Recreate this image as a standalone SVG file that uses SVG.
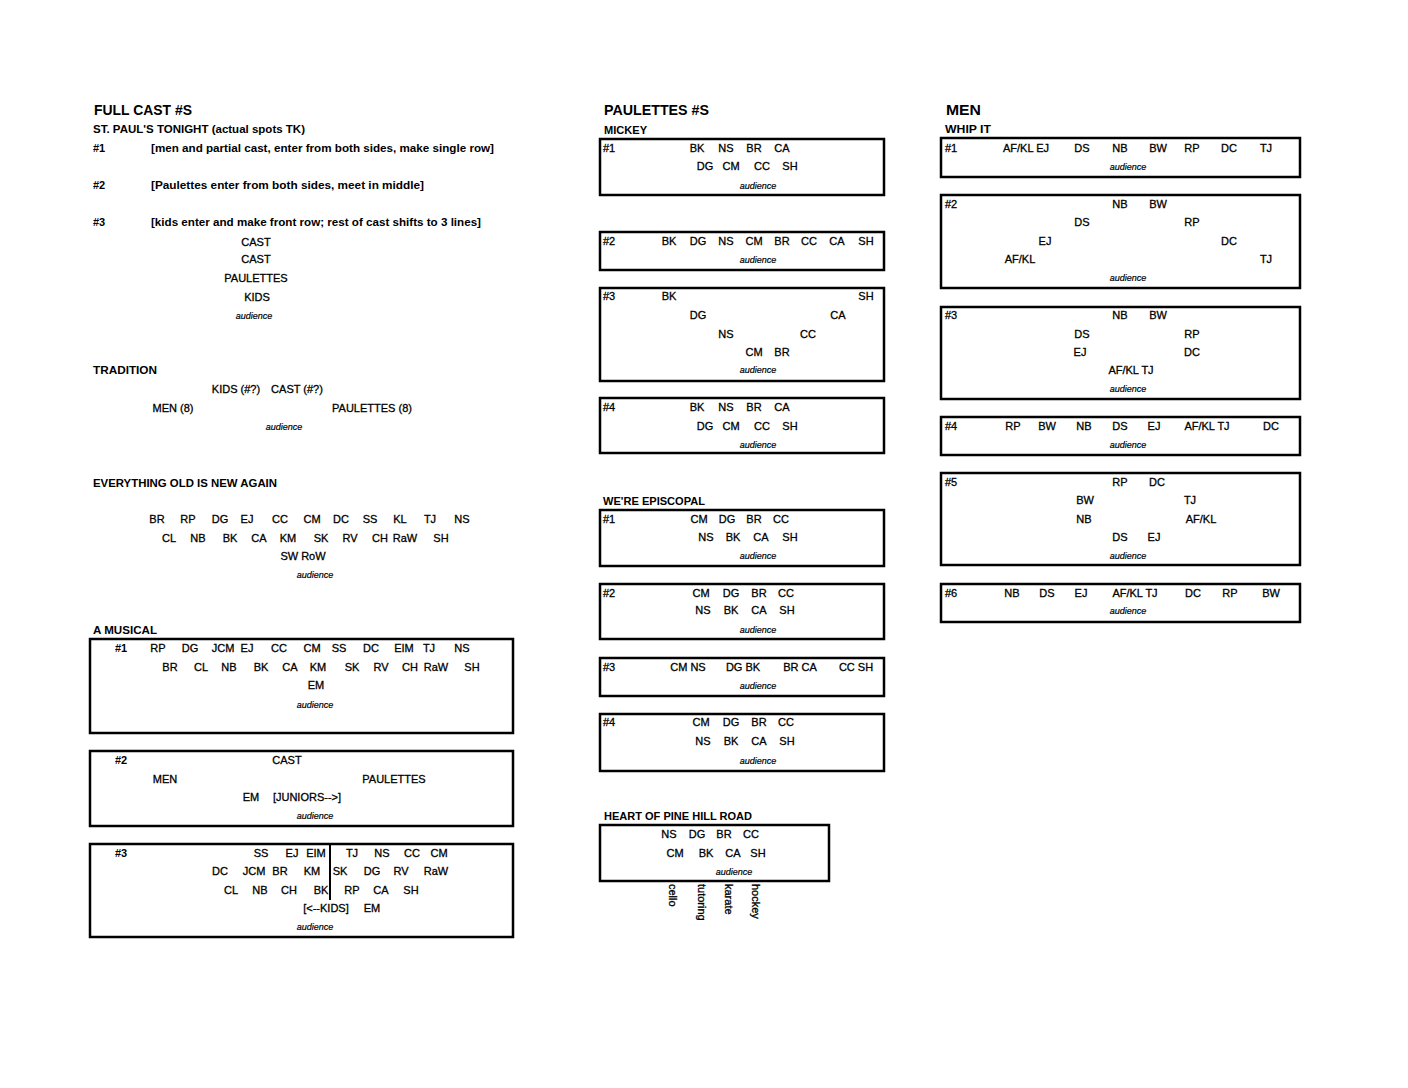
<svg xmlns="http://www.w3.org/2000/svg" width="1408" height="1088" viewBox="0 0 1408 1088">
<style>
text{font-family:"Liberation Sans",Arial,sans-serif;fill:#000}
.h1{font-size:15px;font-weight:bold}
.h2{font-size:11px;font-weight:bold}
.b{font-size:11px;font-weight:bold}
.l{font-size:11px;stroke:#000;stroke-width:0.3}
.t{font-size:11px;text-anchor:middle;stroke:#000;stroke-width:0.3}
.a{font-size:9px;font-style:italic;text-anchor:middle;stroke:#000;stroke-width:0.2}
.r{font-size:11px;stroke:#000;stroke-width:0.3}
.box{fill:none;stroke:#000;stroke-width:2.5}
</style>
<rect width="1408" height="1088" fill="#fff"/>

<!-- LEFT COLUMN -->
<g id="full-cast-title"><text class="h1" x="94" y="115" textLength="98" lengthAdjust="spacingAndGlyphs">FULL CAST #S</text></g>

<g id="st-pauls-tonight">
<text class="h2" x="93" y="133" textLength="212" lengthAdjust="spacingAndGlyphs">ST. PAUL'S TONIGHT (actual spots TK)</text>
<text class="b" x="93" y="152">#1</text>
<text class="b" x="151" y="152" textLength="343" lengthAdjust="spacingAndGlyphs">[men and partial cast, enter from both sides, make single row]</text>
<text class="b" x="93" y="189">#2</text>
<text class="b" x="151" y="189" textLength="273" lengthAdjust="spacingAndGlyphs">[Paulettes enter from both sides, meet in middle]</text>
<text class="b" x="93" y="226">#3</text>
<text class="b" x="151" y="226" textLength="330" lengthAdjust="spacingAndGlyphs">[kids enter and make front row; rest of cast shifts to 3 lines]</text>
<text class="t" x="256" y="246">CAST</text>
<text class="t" x="256" y="263">CAST</text>
<text class="t" x="256" y="282">PAULETTES</text>
<text class="t" x="257" y="301">KIDS</text>
<text class="a" x="254" y="319">audience</text>
</g>

<g id="tradition">
<text class="h2" x="93" y="374" textLength="64" lengthAdjust="spacingAndGlyphs">TRADITION</text>
<text class="t" x="236" y="393">KIDS (#?)</text>
<text class="t" x="297" y="393">CAST (#?)</text>
<text class="t" x="173" y="412">MEN (8)</text>
<text class="t" x="372" y="412">PAULETTES (8)</text>
<text class="a" x="284" y="430">audience</text>
</g>

<g id="everything-old">
<text class="h2" x="93" y="487" textLength="184" lengthAdjust="spacingAndGlyphs">EVERYTHING OLD IS NEW AGAIN</text>
<text class="t" x="157" y="523">BR</text><text class="t" x="188" y="523">RP</text><text class="t" x="220" y="523">DG</text><text class="t" x="247" y="523">EJ</text><text class="t" x="280" y="523">CC</text><text class="t" x="312" y="523">CM</text><text class="t" x="341" y="523">DC</text><text class="t" x="370" y="523">SS</text><text class="t" x="400" y="523">KL</text><text class="t" x="430" y="523">TJ</text><text class="t" x="462" y="523">NS</text>
<text class="t" x="169" y="542">CL</text><text class="t" x="198" y="542">NB</text><text class="t" x="230" y="542">BK</text><text class="t" x="259" y="542">CA</text><text class="t" x="288" y="542">KM</text><text class="t" x="321" y="542">SK</text><text class="t" x="350" y="542">RV</text><text class="t" x="380" y="542">CH</text><text class="t" x="405" y="542">RaW</text><text class="t" x="441" y="542">SH</text>
<text class="t" x="303" y="560">SW RoW</text>
<text class="a" x="315" y="578">audience</text>
</g>

<g id="a-musical-title"><text class="h2" x="93" y="634" textLength="64" lengthAdjust="spacingAndGlyphs">A MUSICAL</text></g>

<g id="a-musical-1">
<rect class="box" x="90" y="639" width="423" height="94"/>
<text class="b" x="115" y="652">#1</text>
<text class="t" x="158" y="652">RP</text><text class="t" x="190" y="652">DG</text><text class="t" x="223" y="652">JCM</text><text class="t" x="247" y="652">EJ</text><text class="t" x="279" y="652">CC</text><text class="t" x="312" y="652">CM</text><text class="t" x="339" y="652">SS</text><text class="t" x="371" y="652">DC</text><text class="t" x="404" y="652">EIM</text><text class="t" x="429" y="652">TJ</text><text class="t" x="462" y="652">NS</text>
<text class="t" x="170" y="671">BR</text><text class="t" x="201" y="671">CL</text><text class="t" x="229" y="671">NB</text><text class="t" x="261" y="671">BK</text><text class="t" x="290" y="671">CA</text><text class="t" x="318" y="671">KM</text><text class="t" x="352" y="671">SK</text><text class="t" x="381" y="671">RV</text><text class="t" x="410" y="671">CH</text><text class="t" x="436" y="671">RaW</text><text class="t" x="472" y="671">SH</text>
<text class="t" x="316" y="689">EM</text>
<text class="a" x="315" y="708">audience</text>
</g>

<g id="a-musical-2">
<rect class="box" x="90" y="751" width="423" height="75"/>
<text class="b" x="115" y="764">#2</text>
<text class="t" x="287" y="764">CAST</text>
<text class="t" x="165" y="783">MEN</text>
<text class="t" x="394" y="783">PAULETTES</text>
<text class="t" x="251" y="801">EM</text>
<text class="t" x="307" y="801">[JUNIORS--&gt;]</text>
<text class="a" x="315" y="819">audience</text>
</g>

<g id="a-musical-3">
<rect class="box" x="90" y="844" width="423" height="93"/>
<line x1="330" y1="844" x2="330" y2="900" stroke="#000" stroke-width="2"/>
<text class="b" x="115" y="857">#3</text>
<text class="t" x="261" y="857">SS</text><text class="t" x="292" y="857">EJ</text><text class="t" x="316" y="857">EIM</text><text class="t" x="352" y="857">TJ</text><text class="t" x="382" y="857">NS</text><text class="t" x="412" y="857">CC</text><text class="t" x="439" y="857">CM</text>
<text class="t" x="220" y="875">DC</text><text class="t" x="254" y="875">JCM</text><text class="t" x="280" y="875">BR</text><text class="t" x="312" y="875">KM</text><text class="t" x="340" y="875">SK</text><text class="t" x="372" y="875">DG</text><text class="t" x="401" y="875">RV</text><text class="t" x="436" y="875">RaW</text>
<text class="t" x="231" y="894">CL</text><text class="t" x="260" y="894">NB</text><text class="t" x="289" y="894">CH</text><text class="t" x="321" y="894">BK</text><text class="t" x="352" y="894">RP</text><text class="t" x="381" y="894">CA</text><text class="t" x="411" y="894">SH</text>
<text class="t" x="326" y="912">[&lt;--KIDS]</text>
<text class="t" x="372" y="912">EM</text>
<text class="a" x="315" y="930">audience</text>
</g>

<!-- MIDDLE COLUMN -->
<g id="paulettes-title">
<text class="h1" x="604" y="115" textLength="105" lengthAdjust="spacingAndGlyphs">PAULETTES #S</text>
<text class="h2" x="604" y="134" textLength="43" lengthAdjust="spacingAndGlyphs">MICKEY</text>
</g>

<g id="mickey-1">
<rect class="box" x="600" y="139" width="284" height="56"/>
<text class="l" x="603" y="152">#1</text>
<text class="t" x="697" y="152">BK</text><text class="t" x="726" y="152">NS</text><text class="t" x="754" y="152">BR</text><text class="t" x="782" y="152">CA</text>
<text class="t" x="705" y="170">DG</text><text class="t" x="731" y="170">CM</text><text class="t" x="762" y="170">CC</text><text class="t" x="790" y="170">SH</text>
<text class="a" x="758" y="189">audience</text>
</g>

<g id="mickey-2">
<rect class="box" x="600" y="232" width="284" height="38"/>
<text class="l" x="603" y="245">#2</text>
<text class="t" x="669" y="245">BK</text><text class="t" x="698" y="245">DG</text><text class="t" x="726" y="245">NS</text><text class="t" x="754" y="245">CM</text><text class="t" x="782" y="245">BR</text><text class="t" x="809" y="245">CC</text><text class="t" x="837" y="245">CA</text><text class="t" x="866" y="245">SH</text>
<text class="a" x="758" y="263">audience</text>
</g>

<g id="mickey-3">
<rect class="box" x="600" y="288" width="284" height="93"/>
<text class="l" x="603" y="300">#3</text>
<text class="t" x="669" y="300">BK</text><text class="t" x="866" y="300">SH</text>
<text class="t" x="698" y="319">DG</text><text class="t" x="838" y="319">CA</text>
<text class="t" x="726" y="338">NS</text><text class="t" x="808" y="338">CC</text>
<text class="t" x="754" y="356">CM</text><text class="t" x="782" y="356">BR</text>
<text class="a" x="758" y="373">audience</text>
</g>

<g id="mickey-4">
<rect class="box" x="600" y="398" width="284" height="55"/>
<text class="l" x="603" y="411">#4</text>
<text class="t" x="697" y="411">BK</text><text class="t" x="726" y="411">NS</text><text class="t" x="754" y="411">BR</text><text class="t" x="782" y="411">CA</text>
<text class="t" x="705" y="430">DG</text><text class="t" x="731" y="430">CM</text><text class="t" x="762" y="430">CC</text><text class="t" x="790" y="430">SH</text>
<text class="a" x="758" y="448">audience</text>
</g>

<g id="episcopal-title"><text class="h2" x="603" y="505" textLength="102" lengthAdjust="spacingAndGlyphs">WE'RE EPISCOPAL</text></g>

<g id="episcopal-1">
<rect class="box" x="600" y="510" width="284" height="56"/>
<text class="l" x="603" y="523">#1</text>
<text class="t" x="699" y="523">CM</text><text class="t" x="727" y="523">DG</text><text class="t" x="754" y="523">BR</text><text class="t" x="781" y="523">CC</text>
<text class="t" x="706" y="541">NS</text><text class="t" x="733" y="541">BK</text><text class="t" x="761" y="541">CA</text><text class="t" x="790" y="541">SH</text>
<text class="a" x="758" y="559">audience</text>
</g>

<g id="episcopal-2">
<rect class="box" x="600" y="584" width="284" height="55"/>
<text class="l" x="603" y="597">#2</text>
<text class="t" x="701" y="597">CM</text><text class="t" x="731" y="597">DG</text><text class="t" x="759" y="597">BR</text><text class="t" x="786" y="597">CC</text>
<text class="t" x="703" y="614">NS</text><text class="t" x="731" y="614">BK</text><text class="t" x="759" y="614">CA</text><text class="t" x="787" y="614">SH</text>
<text class="a" x="758" y="633">audience</text>
</g>

<g id="episcopal-3">
<rect class="box" x="600" y="658" width="284" height="38"/>
<text class="l" x="603" y="671">#3</text>
<text class="t" x="688" y="671">CM NS</text><text class="t" x="743" y="671">DG BK</text><text class="t" x="800" y="671">BR CA</text><text class="t" x="856" y="671">CC SH</text>
<text class="a" x="758" y="689">audience</text>
</g>

<g id="episcopal-4">
<rect class="box" x="600" y="714" width="284" height="57"/>
<text class="l" x="603" y="726">#4</text>
<text class="t" x="701" y="726">CM</text><text class="t" x="731" y="726">DG</text><text class="t" x="759" y="726">BR</text><text class="t" x="786" y="726">CC</text>
<text class="t" x="703" y="745">NS</text><text class="t" x="731" y="745">BK</text><text class="t" x="759" y="745">CA</text><text class="t" x="787" y="745">SH</text>
<text class="a" x="758" y="764">audience</text>
</g>

<g id="heart-of-pine-hill-road">
<text class="h2" x="604" y="820" textLength="148" lengthAdjust="spacingAndGlyphs">HEART OF PINE HILL ROAD</text>
<rect class="box" x="600" y="825" width="229" height="56"/>
<text class="t" x="669" y="838">NS</text><text class="t" x="697" y="838">DG</text><text class="t" x="724" y="838">BR</text><text class="t" x="751" y="838">CC</text>
<text class="t" x="675" y="857">CM</text><text class="t" x="706" y="857">BK</text><text class="t" x="733" y="857">CA</text><text class="t" x="758" y="857">SH</text>
<text class="a" x="734" y="875">audience</text>
<text class="r" transform="translate(669,884) rotate(90)">cello</text>
<text class="r" transform="translate(698,884) rotate(90)">tutoring</text>
<text class="r" transform="translate(725,884) rotate(90)">karate</text>
<text class="r" transform="translate(752,884) rotate(90)">hockey</text>
</g>

<!-- RIGHT COLUMN -->
<g id="men-title">
<text class="h1" x="946" y="115" textLength="35" lengthAdjust="spacingAndGlyphs">MEN</text>
<text class="h2" x="945" y="133" textLength="46" lengthAdjust="spacingAndGlyphs">WHIP IT</text>
</g>

<g id="whip-1">
<rect class="box" x="941" y="138" width="359" height="39"/>
<text class="l" x="945" y="152">#1</text>
<text class="t" x="1026" y="152">AF/KL EJ</text><text class="t" x="1082" y="152">DS</text><text class="t" x="1120" y="152">NB</text><text class="t" x="1158" y="152">BW</text><text class="t" x="1192" y="152">RP</text><text class="t" x="1229" y="152">DC</text><text class="t" x="1266" y="152">TJ</text>
<text class="a" x="1128" y="170">audience</text>
</g>

<g id="whip-2">
<rect class="box" x="941" y="195" width="359" height="93"/>
<text class="l" x="945" y="208">#2</text>
<text class="t" x="1120" y="208">NB</text><text class="t" x="1158" y="208">BW</text>
<text class="t" x="1082" y="226">DS</text><text class="t" x="1192" y="226">RP</text>
<text class="t" x="1045" y="245">EJ</text><text class="t" x="1229" y="245">DC</text>
<text class="t" x="1020" y="263">AF/KL</text><text class="t" x="1266" y="263">TJ</text>
<text class="a" x="1128" y="281">audience</text>
</g>

<g id="whip-3">
<rect class="box" x="941" y="307" width="359" height="92"/>
<text class="l" x="945" y="319">#3</text>
<text class="t" x="1120" y="319">NB</text><text class="t" x="1158" y="319">BW</text>
<text class="t" x="1082" y="338">DS</text><text class="t" x="1192" y="338">RP</text>
<text class="t" x="1080" y="356">EJ</text><text class="t" x="1192" y="356">DC</text>
<text class="t" x="1131" y="374">AF/KL TJ</text>
<text class="a" x="1128" y="392">audience</text>
</g>

<g id="whip-4">
<rect class="box" x="941" y="417" width="359" height="38"/>
<text class="l" x="945" y="430">#4</text>
<text class="t" x="1013" y="430">RP</text><text class="t" x="1047" y="430">BW</text><text class="t" x="1084" y="430">NB</text><text class="t" x="1120" y="430">DS</text><text class="t" x="1154" y="430">EJ</text><text class="t" x="1207" y="430">AF/KL TJ</text><text class="t" x="1271" y="430">DC</text>
<text class="a" x="1128" y="448">audience</text>
</g>

<g id="whip-5">
<rect class="box" x="941" y="473" width="359" height="92"/>
<text class="l" x="945" y="486">#5</text>
<text class="t" x="1120" y="486">RP</text><text class="t" x="1157" y="486">DC</text>
<text class="t" x="1085" y="504">BW</text><text class="t" x="1190" y="504">TJ</text>
<text class="t" x="1084" y="523">NB</text><text class="t" x="1201" y="523">AF/KL</text>
<text class="t" x="1120" y="541">DS</text><text class="t" x="1154" y="541">EJ</text>
<text class="a" x="1128" y="559">audience</text>
</g>

<g id="whip-6">
<rect class="box" x="941" y="584" width="359" height="38"/>
<text class="l" x="945" y="597">#6</text>
<text class="t" x="1012" y="597">NB</text><text class="t" x="1047" y="597">DS</text><text class="t" x="1081" y="597">EJ</text><text class="t" x="1135" y="597">AF/KL TJ</text><text class="t" x="1193" y="597">DC</text><text class="t" x="1230" y="597">RP</text><text class="t" x="1271" y="597">BW</text>
<text class="a" x="1128" y="614">audience</text>
</g>

<g id="connectors"></g>
</svg>
